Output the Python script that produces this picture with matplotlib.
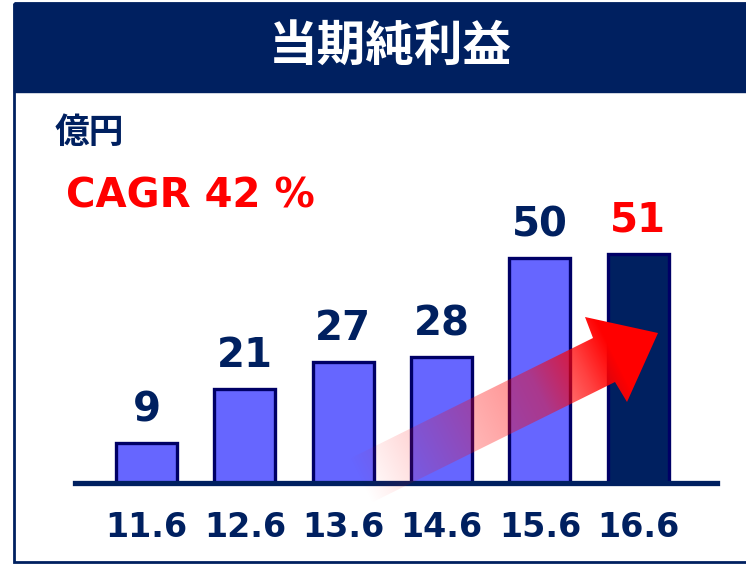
import numpy as np
import matplotlib.pyplot as plt
from matplotlib.patches import Rectangle, Polygon

plt.rcParams['font.family'] = ['DejaVu Sans', 'Noto Sans CJK JP']

# 当期純利益（億円）
periods = ['11.6', '12.6', '13.6', '14.6', '15.6', '16.6']
profit = [9, 21, 27, 28, 50, 51]
title = '当期純利益'
unit = '億円'
cagr_text = 'CAGR 42 %'

NAVY = '#002060'
EDGE = '#000066'
BAR = '#6666FF'
RED = '#FF0000'

W, H = 746, 565
fig = plt.figure(figsize=(W / 100, H / 100), dpi=100)

# 棒グラフ本体（ピクセル位置からaxesを配置）
ax_l, ax_r, ax_b, ax_t = 75, 717, 483, 123
ax = fig.add_axes([ax_l / W, 1 - ax_b / H, (ax_r - ax_l) / W, (ax_b - ax_t) / H])
ax.patch.set_alpha(0)
x = np.arange(len(periods))
colors = [BAR] * (len(profit) - 1) + [NAVY]
ax.bar(x, profit, width=0.62, color=colors, edgecolor=EDGE, linewidth=2.4, zorder=2)
ax.set_xlim(-0.727, 5.80)
ax.set_ylim(0, 80)
for s in ax.spines.values():
    s.set_visible(False)
ax.axhline(0, color=NAVY, linewidth=3.8, zorder=3, clip_on=False)
ax.set_yticks([])
ax.set_xticks(x)
ax.set_xticklabels(periods, fontsize=24, fontweight='bold', color=NAVY)
ax.tick_params(axis='x', length=0, pad=20)

for i, v in enumerate(profit):
    ax.annotate(str(v), (i, v), xytext=(0, 9), textcoords='offset points',
                ha='center', va='bottom', fontsize=29, fontweight='bold',
                color=RED if i == len(profit) - 1 else NAVY)

# 枠・タイトル帯・矢印はピクセル座標のaxesに描く
deco = fig.add_axes([0, 0, 1, 1], zorder=5)
deco.set_xlim(0, W)
deco.set_ylim(H, 0)
deco.axis('off')
deco.patch.set_alpha(0)

deco.add_patch(Rectangle((14, 3), W, 559, fill=False, edgecolor=NAVY, linewidth=2))
deco.add_patch(Rectangle((14, 3), W, 89, facecolor=NAVY, edgecolor=NAVY, linewidth=1))
deco.text(390, 46, title, color='white', fontsize=35, fontweight='bold',
          family='Noto Sans CJK JP', ha='center', va='center')
deco.text(55, 132, unit, color=NAVY, fontsize=25, fontweight='bold',
          family='Noto Sans CJK JP', ha='left', va='center')
deco.text(66, 197, cagr_text, color=RED, fontsize=29, fontweight='bold',
          ha='left', va='center')

# グラデーション矢印
tail = np.array([360.0, 481.0])
tip = np.array([658.0, 333.0])
arrow_pts = [(349, 459), (593, 338), (585, 317), (658, 333),
             (627, 402), (615, 382), (371, 503)]
arrow = Polygon(arrow_pts, closed=True, facecolor='none', edgecolor='none')
deco.add_patch(arrow)

d = np.array([0.896, -0.4436])
span = (tip - tail) @ d
x0, x1, y0, y1 = 330, 670, 305, 515
gx, gy = np.meshgrid(np.arange(x0, x1) + 0.5, np.arange(y0, y1) + 0.5)
u = ((gx - tail[0]) * d[0] + (gy - tail[1]) * d[1]) / span
alpha = np.interp(u, [0, 0.37, 0.6, 0.75, 0.85, 1], [0, 0.3, 0.45, 0.75, 1, 1])
img = np.zeros(gx.shape + (4,))
img[..., 0] = 1.0
img[..., 3] = alpha
im = deco.imshow(img, extent=[x0, x1, y1, y0], origin='upper', aspect='auto',
                 interpolation='bilinear')
im.set_clip_path(arrow)
deco.set_xlim(0, W)
deco.set_ylim(H, 0)

fig.savefig('out.png', dpi=100)
